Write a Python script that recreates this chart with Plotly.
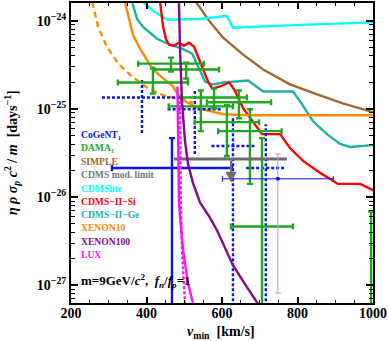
import math
import plotly.graph_objects as go

# ---------------- data (v_min in km/s ; eta*rho*sigma_p*c^2/m in days^-1) ----------------
simple_v = [531, 568, 603, 656, 709, 780, 852, 920, 1000]
simple_y = [1.64e-24, 9.75e-25, 6.43e-25, 4.14e-25, 2.80e-25, 1.90e-25, 1.46e-25, 1.16e-25, 9.2e-26]

cdmslite_v = [391, 422, 457, 542, 613, 629, 807, 1003]
cdmslite_y = [1.64e-24, 1.26e-24, 1.03e-24, 1.05e-24, 1.14e-24, 8.34e-25, 9.01e-25, 9.62e-25]

si_v = [436, 444, 452, 460, 473, 486, 499, 513, 526, 536, 550, 563, 574, 595, 619, 632,
        656, 682, 706, 754, 780, 815, 860, 894, 907, 966, 1003]
si_y = [1.64e-24, 8.55e-25, 6.11e-25, 5.36e-25, 5.22e-25, 5.65e-25, 5.22e-25, 5.65e-25,
        5.09e-25, 3.93e-25, 2.88e-25, 2.05e-25, 1.71e-25, 1.80e-25, 2.00e-25, 1.67e-25,
        1.02e-25, 7.26e-26, 5.18e-26, 5.18e-26, 3.60e-26, 2.57e-26, 1.88e-26, 1.53e-26,
        1.41e-26, 1.41e-26, 1.18e-26]

ge_v = [362, 375, 391, 428, 462, 494, 521, 534, 555, 574, 603, 669, 709, 788, 807, 841,
        878, 913, 939, 1003]
ge_y = [1.64e-24, 1.05e-24, 8.55e-25, 6.27e-25, 5.36e-25, 4.83e-25, 4.25e-25, 3.19e-25,
        2.05e-25, 1.90e-25, 2.00e-25, 2.10e-25, 1.58e-25, 1.58e-25, 1.22e-25, 7.26e-26,
        5.18e-26, 4.00e-26, 3.70e-26, 3.89e-26]

x10_v = [343, 351, 364, 383, 415, 444, 468, 483, 502, 523, 550, 603, 674, 1003]
x10_y = [1.64e-24, 1.17e-24, 6.95e-25, 4.83e-25, 2.88e-25, 2.22e-25, 1.85e-25, 1.46e-25,
         1.22e-25, 1.10e-25, 9.91e-26, 8.71e-26, 8.49e-26, 8.49e-26]

x10d_v = [256, 272, 295, 325, 362, 401, 444, 489, 523]
x10d_y = [1.64e-24, 8.55e-25, 5.09e-25, 3.27e-25, 2.33e-25, 1.75e-25, 1.43e-25, 1.29e-25, 1.19e-25]

x100_v = [486, 489, 494, 502, 510, 523, 542, 568, 587, 608, 629, 666, 695, 706]
x100_y = [1.64e-24, 4.47e-25, 1.22e-25, 4.32e-26, 2.38e-26, 1.45e-26, 8.63e-27, 5.85e-27,
          4.17e-27, 2.61e-27, 1.68e-27, 9.5e-28, 6.27e-28, 5.23e-28]

lux_v = [482, 483, 485, 486, 489, 497, 510, 523]
lux_y = [1.80e-25, 7.26e-26, 3.33e-26, 9.09e-27, 5.85e-27, 2.48e-27, 1.05e-27, 6.27e-28]

luxd_v = [489, 491, 494, 499, 502]
luxd_y = [1.22e-25, 9.09e-27, 2.48e-27, 1.14e-27, 6.27e-28]

# DAMA modulation crosses
dama_v = [417, 465, 505, 544, 579, 613, 645, 674, 706, 995]
dama_dv = [93, 87, 87, 85, 87, 85, 85, 84, 82, 82]
dama_y = [2.00e-25, 3.27e-25, 2.80e-25, 1.07e-25, 1.35e-25, 7.08e-26, 1.19e-25, 5.60e-26, 4.63e-27, 5.0e-28]
dama_yhi = [2.88e-25, 3.83e-25, 3.36e-25, 1.62e-25, 1.71e-25, 1.10e-25, 1.62e-25, 9.91e-26, 4.67e-26, 6.84e-27]
dama_ylo = [1.50e-25, 2.66e-25, 2.22e-25, 5.60e-26, 1.02e-25, 2.92e-26, 7.85e-26, 1.41e-26, 1e-29, 1e-29]

# CoGeNT crosses (solid / thin) and dotted crosses
cog_v, cog_dv, cog_y, cog_yhi, cog_ylo = [467.5], [159], [2.14e-26], [4.67e-26], [1e-29]
cogt_v, cogt_dv, cogt_y, cogt_yhi, cogt_ylo = [748], [147], [1.61e-26], [3.08e-26], [8.13e-28]
cogd_v = [388, 528, 629, 716]
cogd_dv = [106, 72, 57, 52]
cogd_y = [1.35e-25, 9.91e-26, 3.79e-26, 2.14e-26]
cogd_yhi = [2.16e-25, 1.67e-25, 7.85e-26, 6.72e-26]
cogd_ylo = [5.32e-26, 3.08e-26, 1e-29, 1e-29]

# CDMS modulation limit
cdmsmod_v = [473, 772]
cdmsmod_y = 2.71e-26
cdmsmod_arrow_v = 624
cdmsmod_arrow_tip = 1.45e-26

legend_labels = ["CoGeNT<sub>1</sub>", "DAMA<sub>1</sub>", "SIMPLE", "CDMS mod. limit", "CDMSlite",
                 "CDMS−II−Si", "CDMS−II−Ge", "XENON10", "XENON100", "LUX"]

x_ticks = [200, 400, 600, 800, 1000]
y_ticks = [1e-27, 1e-26, 1e-25, 1e-24]
y_ticktext = ["<b>10<sup>−27</sup></b>", "<b>10<sup>−26</sup></b>", "<b>10<sup>−25</sup></b>", "<b>10<sup>−24</sup></b>"]

# ---------------- colours ----------------
C_BLUE = "#0a14f0"
C_GREEN = "#1fa81f"
C_BROWN = "#a0692f"
C_GRAY = "#6b6b6b"
C_CYAN = "#00ffff"
C_RED = "#ff0000"
C_TEAL = "#1fb0ac"
C_ORANGE = "#ff8a00"
C_PURPLE = "#850a85"
C_MAGENTA = "#ff10ff"
legend_colors = [C_BLUE, C_GREEN, C_BROWN, "#777777", C_CYAN, C_RED, C_TEAL, C_ORANGE, C_PURPLE, C_MAGENTA]

FONT = "Liberation Serif"

fig = go.Figure()


def curve(v, y, color, width=2.4, dash="solid"):
    fig.add_trace(go.Scatter(x=v, y=y, mode="lines", line=dict(color=color, width=width, dash=dash),
                             hoverinfo="skip", showlegend=False))


curve(simple_v, simple_y, C_BROWN)
curve(cdmslite_v, cdmslite_y, C_CYAN)
curve(ge_v, ge_y, C_TEAL)
curve(si_v, si_y, C_RED)
curve(x10_v, x10_y, C_ORANGE)
curve(x10d_v, x10d_y, C_ORANGE, dash="6px,4px")

# dotted CoGeNT crosses
dx, dy = [], []
for v, d, y, hi, lo in zip(cogd_v, cogd_dv, cogd_y, cogd_yhi, cogd_ylo):
    dx += [v - d, v + d, None, v, v, None]
    dy += [y, y, None, lo, hi, None]
fig.add_trace(go.Scatter(x=dx, y=dy, mode="lines", line=dict(color=C_BLUE, width=2.4, dash="3px,2px"),
                         connectgaps=False, hoverinfo="skip", showlegend=False))


def cross(v, dv, y, hi, lo, color, width, cap, vcolor=None, marker_size=1):
    fig.add_trace(go.Scatter(
        x=v, y=y, mode="markers",
        marker=dict(size=marker_size, color=color),
        error_x=dict(type="data", array=dv, symmetric=True, color=color, thickness=width, width=cap),
        error_y=dict(type="data", symmetric=False,
                     array=[h - c for h, c in zip(hi, y)],
                     arrayminus=[c - l for c, l in zip(y, lo)],
                     color=vcolor or color, thickness=width, width=cap),
        hoverinfo="skip", showlegend=False))


cross(dama_v, dama_dv, dama_y, dama_yhi, dama_ylo, C_GREEN, 2.4, 3)

# CDMS modulation limit line
fig.add_trace(go.Scatter(x=cdmsmod_v, y=[cdmsmod_y, cdmsmod_y], mode="lines",
                         line=dict(color=C_GRAY, width=3), hoverinfo="skip", showlegend=False))

cross(cog_v, cog_dv, cog_y, cog_yhi, cog_ylo, C_BLUE, 2.4, 3)
cross(cogt_v, cogt_dv, cogt_y, cogt_yhi, cogt_ylo, C_BLUE, 1.0, 3, vcolor="#a0a0ff", marker_size=4)

curve(x100_v, x100_y, C_PURPLE)
curve(lux_v, lux_y, C_MAGENTA)
curve(luxd_v, luxd_y, C_MAGENTA, dash="3px,2px")

annotations = []
annotations.append(dict(x=cdmsmod_arrow_v, y=math.log10(cdmsmod_arrow_tip), xref="x", yref="y",
                        ax=cdmsmod_arrow_v, ay=math.log10(cdmsmod_y), axref="x", ayref="y",
                        showarrow=True, arrowhead=2, arrowsize=1.1, arrowwidth=2, arrowcolor=C_GRAY, text=""))

# legend-like coloured labels
top = 0.560
step = 0.0442
for i, (lab, col) in enumerate(zip(legend_labels, legend_colors)):
    annotations.append(dict(x=0.026, y=top - i * step, xref="paper", yref="paper", xanchor="left",
                            yanchor="middle", showarrow=False, text="<b>" + lab + "</b>",
                            font=dict(family=FONT, size=9.6, color=col)))

annotations.append(dict(x=0.026, y=0.073, xref="paper", yref="paper", xanchor="left", yanchor="middle",
                        showarrow=False,
                        text="<b>m=9GeV/<i>c</i><sup>2</sup>,  <i>f<sub>n</sub></i>/<i>f<sub>p</sub></i>=1</b>",
                        font=dict(family=FONT, size=13, color="black")))

# axis titles
annotations.append(dict(x=-0.195, y=0.50, xref="paper", yref="paper", xanchor="center", yanchor="middle",
                        textangle=-90, showarrow=False,
                        text="<b><i>η ρ σ<sub>p</sub> c</i><sup>2</sup> / <i>m</i>  [days<sup>−1</sup>]</b>",
                        font=dict(family=FONT, size=14, color="black")))
annotations.append(dict(x=0.498, y=-0.098, xref="paper", yref="paper", xanchor="center", yanchor="middle",
                        showarrow=False,
                        text="<b><i>v</i><sub>min</sub>  [km/s]</b>",
                        font=dict(family=FONT, size=14, color="black")))

minor_y = [k * 10.0 ** d for d in range(-28, -23) for k in range(2, 10)]

fig.update_layout(
    width=388, height=341,
    margin=dict(l=71, r=14, t=1, b=38),
    paper_bgcolor="white", plot_bgcolor="white",
    annotations=annotations,
    xaxis=dict(range=[200, 1000], tickvals=x_ticks, ticktext=["<b>%d</b>" % t for t in x_ticks],
               ticks="inside", ticklen=6, tickwidth=1.5, tickcolor="black", ticklabelstandoff=-4,
               minor=dict(dtick=50, tick0=200, ticks="inside", ticklen=3, tickwidth=1.2, tickcolor="black",
                          showgrid=False),
               showline=True, linewidth=2, linecolor="black", mirror="allticks",
               showgrid=False, zeroline=False,
               tickfont=dict(family=FONT, size=14, color="black")),
    yaxis=dict(type="log", range=[-27.203, -23.797], tickvals=y_ticks, ticktext=y_ticktext,
               ticks="inside", ticklen=7, tickwidth=1.5, tickcolor="black",
               minor=dict(tickvals=minor_y, ticks="inside", ticklen=4, tickwidth=1.2, tickcolor="black",
                          showgrid=False),
               showline=True, linewidth=2, linecolor="black", mirror="allticks",
               showgrid=False, zeroline=False,
               tickfont=dict(family=FONT, size=14, color="black")),
)

fig.write_html("out.html", config={"displayModeBar": False},
               post_script="document.body.style.margin='0';document.body.style.padding='0';")
